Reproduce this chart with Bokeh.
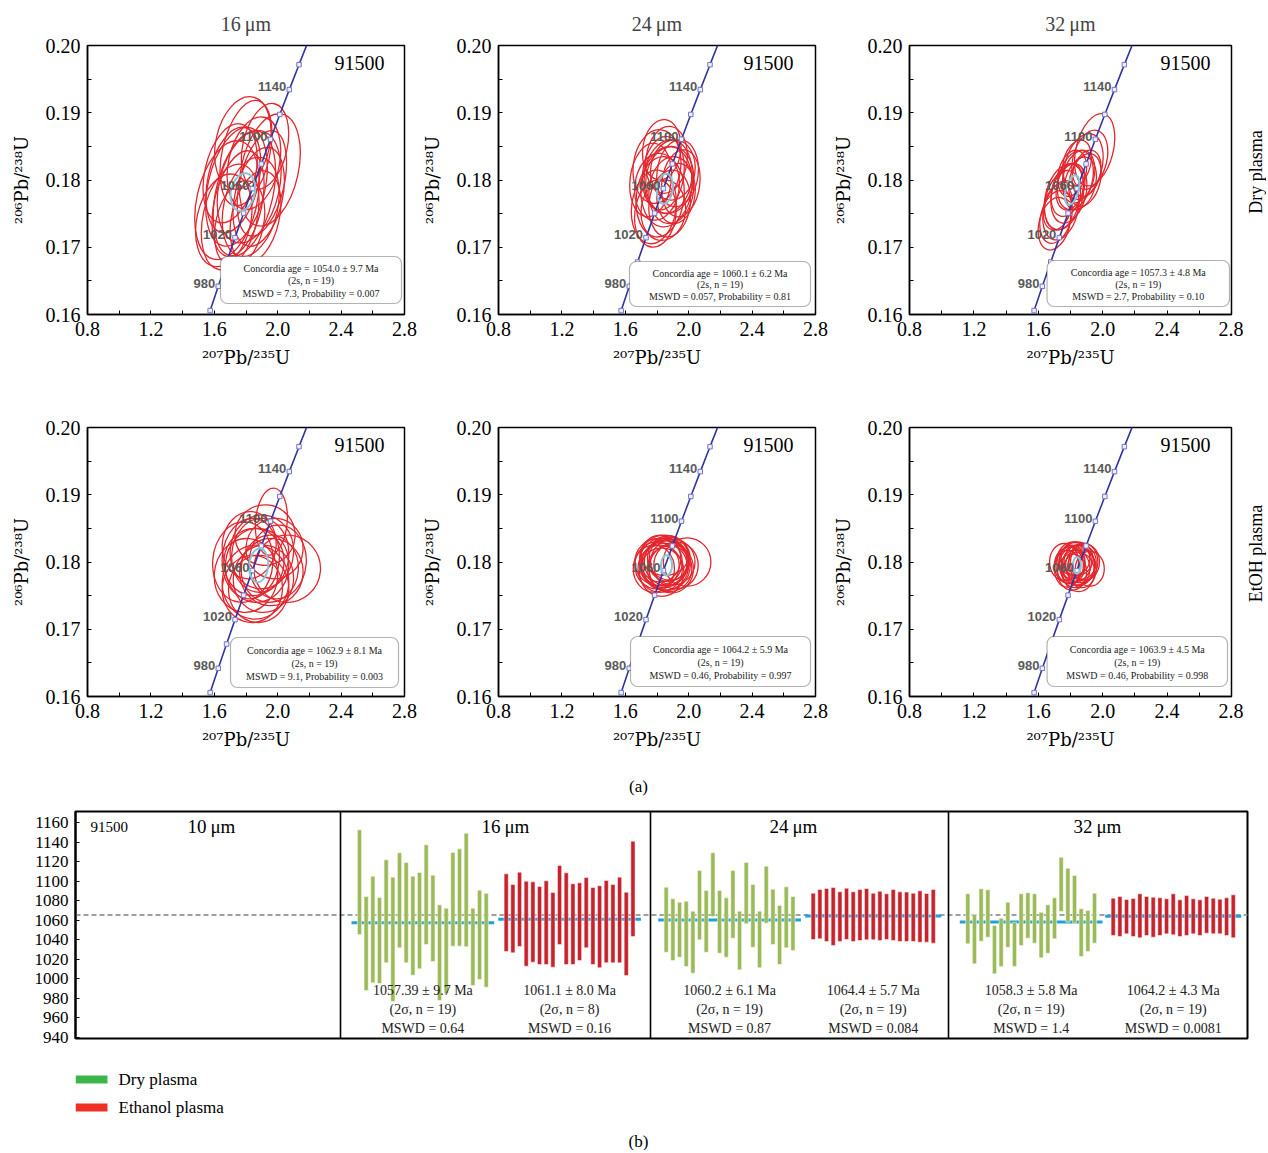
import numpy as np
from bokeh.plotting import figure
from bokeh.models import (FixedTicker, Label, BoxAnnotation, Span, Range1d,
                          PrintfTickFormatter)
from bokeh.layouts import column, row
from bokeh.embed import file_html
from bokeh.resources import INLINE
from bokeh.core.properties import value

SERIF = "Liberation Serif"
SUPFONT = "DejaVu Serif"
SANS = "Liberation Sans"
RED_ELL = "#e3262d"
CONC_BLUE = "#34349e"
CYAN = "#86c5d8"
GREEN_BAR = "#9bbb59"
RED_BAR = "#c8232c"
BLUE_MEAN = "#1ea1e0"

# ---------------- data: concordia reference curve (age, ratios) ----------------
conc_age = [960, 980, 1000, 1020, 1040, 1060, 1080, 1100, 1120, 1140, 1160, 1180]
conc_r207 = [1.5740, 1.6252, 1.6774, 1.7307, 1.7850, 1.8404, 1.8969, 1.9545, 2.0133, 2.0732, 2.1344, 2.1967]
conc_r206 = [0.16058, 0.16419, 0.16780, 0.17143, 0.17507, 0.17872, 0.18239, 0.18606, 0.18975, 0.19344, 0.19715, 0.20087]
conc_labelled = [980, 1020, 1060, 1100, 1140]

spot_sizes = ["16\u2009\u03bcm", "24\u2009\u03bcm", "32\u2009\u03bcm"]
plasma_rows = ["Dry plasma", "EtOH plasma"]
x_ticks = [0.8, 1.2, 1.6, 2.0, 2.4, 2.8]
y_ticks = [0.16, 0.17, 0.18, 0.19, 0.20]
x_title = "\u00b2\u2070\u2077Pb/\u00b2\u00b3\u2075U"
y_title = "\u00b2\u2070\u2076Pb/\u00b2\u00b3\u2078U"

# ---------------- data: error ellipses (207/235 centre, 206/238 centre, widths, heights) ----------------
dry16_ex = [1.70, 1.74, 1.80, 1.85, 1.90, 1.68, 1.76, 1.83, 1.95, 1.72, 1.78, 1.88, 1.66, 1.82, 1.75, 1.92, 1.70, 1.86, 1.79]
dry16_ey = [0.1745, 0.1790, 0.1840, 0.1825, 0.1795, 0.1770, 0.1735, 0.1760, 0.1815, 0.1800, 0.1855, 0.1775, 0.1740, 0.1790, 0.1765, 0.1850, 0.1810, 0.1745, 0.1780]
dry16_ew = [0.34, 0.36, 0.30, 0.32, 0.28, 0.38, 0.30, 0.34, 0.36, 0.32, 0.34, 0.30, 0.34, 0.38, 0.30, 0.28, 0.32, 0.30, 0.36]
dry16_eh = [0.016, 0.018, 0.016, 0.014, 0.016, 0.018, 0.013, 0.015, 0.017, 0.016, 0.014, 0.015, 0.014, 0.017, 0.016, 0.013, 0.015, 0.014, 0.019]

dry24_ex = [1.80, 1.84, 1.88, 1.92, 1.78, 1.86, 1.90, 1.82, 1.95, 1.76, 1.84, 1.88, 1.80, 1.93, 1.86, 1.83, 1.89, 1.79, 1.87]
dry24_ey = [0.1790, 0.1810, 0.1800, 0.1780, 0.1760, 0.1830, 0.1815, 0.1775, 0.1795, 0.1800, 0.1755, 0.1765, 0.1820, 0.1810, 0.1790, 0.1845, 0.1785, 0.1750, 0.1805]
dry24_ew = [0.28, 0.26, 0.30, 0.24, 0.28, 0.26, 0.28, 0.30, 0.24, 0.26, 0.28, 0.26, 0.30, 0.26, 0.32, 0.24, 0.28, 0.26, 0.30]
dry24_eh = [0.010, 0.011, 0.010, 0.009, 0.011, 0.010, 0.009, 0.012, 0.010, 0.011, 0.009, 0.010, 0.011, 0.010, 0.012, 0.009, 0.010, 0.010, 0.011]

dry32_ex = [1.71, 1.75, 1.80, 1.85, 1.88, 1.92, 1.72, 1.78, 1.83, 1.90, 1.70, 1.76, 1.86, 1.95, 1.81, 1.74, 1.89, 1.84, 1.79]
dry32_ey = [0.1745, 0.1770, 0.1790, 0.1805, 0.1820, 0.1830, 0.1760, 0.1785, 0.1800, 0.1810, 0.1735, 0.1775, 0.1795, 0.1845, 0.1810, 0.1755, 0.1800, 0.1825, 0.1780]
dry32_ew = [0.19, 0.21, 0.17, 0.19, 0.23, 0.21, 0.17, 0.19, 0.21, 0.17, 0.19, 0.23, 0.19, 0.23, 0.17, 0.21, 0.19, 0.17, 0.21]
dry32_eh = [0.008, 0.009, 0.007, 0.008, 0.010, 0.009, 0.007, 0.008, 0.009, 0.007, 0.008, 0.010, 0.008, 0.011, 0.007, 0.009, 0.008, 0.007, 0.009]

eth16_ex = [1.85, 1.90, 1.95, 1.80, 1.88, 2.00, 1.82, 1.92, 1.86, 2.06, 1.78, 1.96, 1.89, 1.84, 1.98, 1.87, 1.91, 1.83, 1.96]
eth16_ey = [0.1800, 0.1815, 0.1790, 0.1780, 0.1760, 0.1800, 0.1825, 0.1840, 0.1770, 0.1790, 0.1800, 0.1860, 0.1810, 0.1760, 0.1820, 0.1795, 0.1775, 0.1805, 0.1785]
eth16_ew = [0.38, 0.40, 0.36, 0.40, 0.38, 0.36, 0.34, 0.38, 0.42, 0.42, 0.38, 0.20, 0.36, 0.38, 0.36, 0.40, 0.38, 0.36, 0.40]
eth16_eh = [0.010, 0.011, 0.010, 0.011, 0.010, 0.011, 0.010, 0.009, 0.011, 0.010, 0.012, 0.010, 0.011, 0.010, 0.009, 0.011, 0.010, 0.012, 0.010]

eth24_ex = [1.80, 1.84, 1.88, 1.82, 1.86, 1.90, 1.78, 1.85, 1.92, 1.83, 1.87, 1.81, 1.89, 1.84, 1.86, 1.99, 1.82, 1.88, 1.85]
eth24_ey = [0.1795, 0.1800, 0.1790, 0.1805, 0.1795, 0.1800, 0.1790, 0.1810, 0.1795, 0.1785, 0.1805, 0.1800, 0.1790, 0.1795, 0.1800, 0.1800, 0.1790, 0.1805, 0.1795]
eth24_ew = [0.28, 0.30, 0.28, 0.26, 0.30, 0.28, 0.26, 0.30, 0.28, 0.28, 0.26, 0.30, 0.28, 0.30, 0.28, 0.30, 0.28, 0.26, 0.30]
eth24_eh = [0.0070, 0.0072, 0.0068, 0.0070, 0.0074, 0.0068, 0.0070, 0.0060, 0.0070, 0.0072, 0.0068, 0.0070, 0.0072, 0.0066, 0.0070, 0.0072, 0.0070, 0.0064, 0.0074]

eth32_ex = [1.80, 1.83, 1.86, 1.78, 1.84, 1.88, 1.81, 1.85, 1.92, 1.76, 1.82, 1.87, 1.84, 1.79, 1.86, 1.83, 1.89, 1.81, 1.85]
eth32_ey = [0.1795, 0.1800, 0.1795, 0.1790, 0.1805, 0.1800, 0.1785, 0.1795, 0.1790, 0.1800, 0.1805, 0.1790, 0.1795, 0.1795, 0.1800, 0.1790, 0.1800, 0.1800, 0.1785]
eth32_ew = [0.18, 0.20, 0.18, 0.16, 0.20, 0.18, 0.18, 0.20, 0.18, 0.18, 0.20, 0.18, 0.22, 0.18, 0.20, 0.18, 0.18, 0.16, 0.20]
eth32_eh = [0.0055, 0.0058, 0.0052, 0.0055, 0.0050, 0.0056, 0.0054, 0.0060, 0.0052, 0.0055, 0.0050, 0.0056, 0.0058, 0.0054, 0.0052, 0.0056, 0.0054, 0.0050, 0.0058]

# concordia-age ellipses (x, y, w, h) per panel, row-major: dry16, dry24, dry32, eth16, eth24, eth32
cage_x = [1.78, 1.85, 1.81, 1.88, 1.86, 1.84]
cage_y = [0.1782, 0.1787, 0.1785, 0.1795, 0.1795, 0.1795]
cage_w = [0.15, 0.10, 0.08, 0.12, 0.07, 0.05]
cage_h = [0.0057, 0.0045, 0.0045, 0.0050, 0.0030, 0.0025]

# concordia-age results
cage_age = ["1054.0", "1060.1", "1057.3", "1062.9", "1064.2", "1063.9"]
cage_err = ["9.7", "6.2", "4.8", "8.1", "5.9", "4.5"]
cage_n = [19, 19, 19, 19, 19, 19]
cage_mswd = ["7.3", "0.057", "2.7", "9.1", "0.46", "0.46"]
cage_prob = ["0.007", "0.81", "0.10", "0.003", "0.997", "0.998"]

# ---------------- data: 206Pb/238U ages (b) ----------------
dry16_hi = [1152.5, 1084.3, 1105.1, 1083.3, 1121.8, 1104.1, 1129.0, 1119.1, 1105.1, 1108.9, 1137.2, 1106.1, 1075.8, 1072.3, 1129.3, 1133.1, 1149.1, 1072.3, 1090.8, 1087.7]
dry16_lo = [1045.4, 988.1, 996.0, 995.3, 1016.5, 976.9, 1031.8, 1016.5, 1003.8, 1010.3, 1035.2, 1017.8, 977.9, 985.1, 1033.5, 1033.5, 1032.8, 993.3, 999.4, 991.5]
eth16_hi = [1107.5, 1096.6, 1109.2, 1100.0, 1099.3, 1094.5, 1100.4, 1088.4, 1116.0, 1108.5, 1097.3, 1098.3, 1103.7, 1093.5, 1095.3, 1100.7, 1096.6, 1104.1, 1088.7, 1140.9]
eth16_lo = [1028.0, 1026.7, 1033.2, 1013.0, 1017.1, 1014.7, 1014.7, 1012.0, 1035.2, 1014.7, 1014.7, 1018.8, 1031.8, 1014.7, 1011.4, 1016.5, 1016.5, 1016.5, 1003.5, 1043.4]
dry24_hi = [1093.8, 1082.0, 1078.5, 1079.5, 1069.3, 1110.9, 1090.4, 1129.0, 1090.4, 1083.0, 1110.9, 1069.3, 1119.1, 1096.6, 1069.3, 1115.3, 1091.8, 1075.1, 1094.2, 1084.3]
dry24_lo = [1027.3, 1018.8, 1022.2, 1012.7, 1005.8, 1040.0, 1027.3, 1063.8, 1026.3, 1022.2, 1041.6, 1009.3, 1056.4, 1032.4, 1011.4, 1057.0, 1035.2, 1014.7, 1031.8, 1029.1]
eth24_hi = [1087.7, 1091.5, 1092.5, 1093.5, 1089.1, 1092.8, 1089.1, 1091.5, 1092.5, 1087.7, 1089.7, 1087.1, 1091.5, 1089.1, 1088.8, 1087.7, 1090.1, 1087.4, 1091.5]
eth24_lo = [1040.3, 1041.0, 1038.3, 1034.2, 1038.3, 1040.3, 1038.3, 1039.3, 1040.0, 1040.0, 1039.3, 1040.3, 1039.3, 1038.3, 1038.3, 1038.3, 1037.6, 1037.6, 1036.6]
dry32_hi = [1087.1, 1065.9, 1092.2, 1091.2, 1054.6, 1062.1, 1078.5, 1058.0, 1087.1, 1088.1, 1087.1, 1068.2, 1075.8, 1083.0, 1124.5, 1113.3, 1105.8, 1071.7, 1070.0, 1087.7]
dry32_lo = [1035.9, 1015.4, 1038.6, 1042.7, 1005.2, 1012.7, 1032.4, 1012.7, 1034.2, 1041.6, 1036.6, 1021.6, 1026.3, 1041.0, 1069.0, 1058.0, 1057.0, 1022.9, 1028.0, 1036.6]
eth32_hi = [1082.6, 1084.3, 1081.2, 1082.3, 1087.1, 1084.3, 1083.6, 1083.0, 1082.0, 1087.1, 1080.9, 1085.3, 1082.0, 1080.9, 1084.3, 1082.6, 1081.6, 1083.0, 1086.0]
eth32_lo = [1044.4, 1043.4, 1046.1, 1043.4, 1042.0, 1044.4, 1042.7, 1044.4, 1046.1, 1045.1, 1043.4, 1044.4, 1046.1, 1044.4, 1046.8, 1046.1, 1046.1, 1044.4, 1042.0]

wm_dry = ["1057.39", "1060.2", "1058.3"]
wm_eth = ["1061.1", "1064.4", "1064.2"]
wm_dry_err = ["9.7", "6.1", "5.8"]
wm_eth_err = ["8.0", "5.7", "4.3"]
wm_dry_n = [19, 19, 19]
wm_eth_n = [8, 19, 19]
wm_dry_mswd = ["0.64", "0.87", "1.4"]
wm_eth_mswd = ["0.16", "0.084", "0.0081"]
ref_age = 1065.4
age_ticks = [940, 960, 980, 1000, 1020, 1040, 1060, 1080, 1100, 1120, 1140, 1160]
legend_labels = ["Dry plasma", "Ethanol plasma"]
legend_colors = ["#3cb54a", "#ee3124"]

# ---------------- layout (page pixels) ----------------
FIG_X = [0, 418, 829, 1243, 1266]
FR_L = [87, 498, 908]
FR_W = [317, 317, 323]
ROW_Y = [0, 382, 765]
FR_T = [45, 427]
FR_H = 269
BOX_PX = [(220, 401, 256, 303), (629, 810, 261, 306), (1046, 1229, 260, 306),
          (230, 398, 637, 687), (630, 810, 636, 686), (1046, 1227, 636, 686)]
TAG_PX = [(384, 62), (793, 62), (1210, 62), (384, 444), (793, 444), (1210, 444)]
ELL_ANGLE = [-0.22, -0.12, -0.25, -0.08, 0.0, 0.0]

panels = [
    (dry16_ex, dry16_ey, dry16_ew, dry16_eh), (dry24_ex, dry24_ey, dry24_ew, dry24_eh),
    (dry32_ex, dry32_ey, dry32_ew, dry32_eh), (eth16_ex, eth16_ey, eth16_ew, eth16_eh),
    (eth24_ex, eth24_ey, eth24_ew, eth24_eh), (eth32_ex, eth32_ey, eth32_ew, eth32_eh),
]


def make_panel(r, c):
    k = r * 3 + c
    fig_w = FIG_X[c + 1] - FIG_X[c]
    fig_h = ROW_Y[r + 1] - ROW_Y[r]
    bl = FR_L[c] - FIG_X[c]
    br = FIG_X[c + 1] - (FR_L[c] + FR_W[c])
    bt = FR_T[r] - ROW_Y[r]
    bb = fig_h - bt - FR_H
    p = figure(width=fig_w, height=fig_h, x_range=Range1d(0.8, 2.8), y_range=Range1d(0.16, 0.20),
               output_backend="svg", toolbar_location=None,
               min_border_left=bl, min_border_right=br, min_border_top=bt, min_border_bottom=bb)
    sx = lambda px: 0.8 + (px - FR_L[c]) / FR_W[c] * 2.0
    sy = lambda py: 0.20 - (py - FR_T[r]) / FR_H * 0.04

    p.grid.visible = False
    p.outline_line_color = "black"
    p.outline_line_width = 1.5
    p.background_fill_color = "white"
    p.border_fill_color = "white"

    p.xaxis.ticker = FixedTicker(ticks=x_ticks, minor_ticks=[1.0, 1.4, 1.8, 2.2, 2.6])
    p.yaxis.ticker = FixedTicker(ticks=y_ticks, minor_ticks=[0.165, 0.175, 0.185, 0.195])
    p.xaxis.formatter = PrintfTickFormatter(format="%.1f")
    p.yaxis.formatter = PrintfTickFormatter(format="%.2f")
    for ax in (p.xaxis, p.yaxis):
        ax.major_tick_in = 4
        ax.major_tick_out = 0
        ax.minor_tick_in = 4
        ax.minor_tick_out = 0
        ax.axis_line_color = "black"
        ax.axis_line_width = 1.5
        ax.major_label_text_font = SERIF
        ax.major_label_text_font_size = "20px"
        ax.major_label_text_color = "black"
        ax.axis_label_text_font = SUPFONT
        ax.axis_label_text_font_size = "18px"
        ax.axis_label_text_font_style = "normal"
        ax.axis_label_text_color = "black"
    p.xaxis.major_label_standoff = 7
    p.xaxis.axis_label_standoff = 8
    p.yaxis.major_label_standoff = 7
    p.yaxis.axis_label_standoff = 11
    p.xaxis.axis_label = x_title
    p.yaxis.axis_label = y_title

    if r == 0:
        p.title.text = spot_sizes[c]
        p.title.align = "center"
        p.title.text_font = SERIF
        p.title.text_font_size = "20px"
        p.title.text_font_style = "normal"
        p.title.standoff = 21

    ex, ey, ew, eh = panels[k]
    p.ellipse(x=ex, y=ey, width=ew, height=eh, angle=ELL_ANGLE[k],
              fill_alpha=0, line_color=RED_ELL, line_width=1.3)
    p.line(conc_r207, conc_r206, line_color=CONC_BLUE, line_width=1.6)
    p.scatter(conc_r207, conc_r206, marker="square", size=4.5,
              fill_color="#eef0ff", line_color="#7474c8", line_width=1)
    p.ellipse(x=[cage_x[k]], y=[cage_y[k]], width=[cage_w[k]], height=[cage_h[k]],
              angle=ELL_ANGLE[k], fill_alpha=0, line_color=CYAN, line_width=2)
    idx = [conc_age.index(a) for a in conc_labelled]
    p.text(x=[conc_r207[i] for i in idx], y=[conc_r206[i] for i in idx],
           text=[str(a) for a in conc_labelled], text_align="right", text_baseline="middle",
           x_offset=-3, y_offset=-3, text_font=value(SANS), text_font_size="13px",
           text_font_style="bold", text_color="#5a5a5a")

    bx0, bx1, by0, by1 = BOX_PX[k]
    p.add_layout(BoxAnnotation(left=sx(bx0), right=sx(bx1), top=sy(by0), bottom=sy(by1),
                               fill_color="white", fill_alpha=1.0, line_color="black",
                               line_width=1.2, border_radius=7))
    lines = [f"Concordia age = {cage_age[k]} \u00b1 {cage_err[k]} Ma",
             f"(2s, n = {cage_n[k]})",
             f"MSWD = {cage_mswd[k]}, Probability = {cage_prob[k]}"]
    for j, frac in enumerate([0.26, 0.52, 0.78]):
        p.add_layout(Label(x=sx((bx0 + bx1) / 2), y=sy(by0 + frac * (by1 - by0)), text=lines[j],
                           text_align="center", text_baseline="middle", text_font=SERIF,
                           text_font_size="10px", text_color="#222222"))
    tx, ty = TAG_PX[k]
    p.add_layout(Label(x=sx(tx), y=sy(ty), text="91500", text_align="right",
                       text_baseline="middle", text_font=SERIF, text_font_size="20px",
                       text_color="black"))
    return p


def row_label(r):
    w = FIG_X[4] - FIG_X[3]
    h = ROW_Y[r + 1] - ROW_Y[r]
    p = figure(width=w, height=h, x_range=Range1d(0, w), y_range=Range1d(h, 0),
               output_backend="svg", toolbar_location=None,
               min_border_left=0, min_border_right=0, min_border_top=0, min_border_bottom=0)
    p.axis.visible = False
    p.grid.visible = False
    p.outline_line_color = None
    p.text(x=[w / 2 + 1], y=[FR_T[r] + FR_H / 2 - ROW_Y[r]], text=[plasma_rows[r]],
           angle=np.pi / 2, text_align="center", text_baseline="middle",
           text_font=value(SERIF), text_font_size="18px", text_color="black")
    return p


# ---------------- bottom chart (b) geometry ----------------
PAGE_W = 1266
B_TOP, BH = 800, 260
B_FT, B_FH, B_FL, B_FW = 11, 227, 75, 1172
B_BR = PAGE_W - B_FL - B_FW


def blank(h):
    p = figure(width=PAGE_W, height=h, x_range=Range1d(0, B_FW), y_range=Range1d(h, 0),
               output_backend="svg", toolbar_location=None,
               min_border_left=B_FL, min_border_right=B_BR, min_border_top=0, min_border_bottom=0)
    p.axis.visible = False
    p.grid.visible = False
    p.outline_line_color = None
    return p


row1 = row(*[make_panel(0, c) for c in range(3)], row_label(0))
row2 = row(*[make_panel(1, c) for c in range(3)], row_label(1))

cap_a = blank(35)
cap_a.add_layout(Label(x=638 - B_FL, y=21, text="(a)", text_align="center", text_baseline="middle",
                       text_font=SERIF, text_font_size="17px", text_color="black"))

y_lo, y_hi = 939.0, 1171.3
pb = figure(width=PAGE_W, height=BH, x_range=Range1d(0, B_FW), y_range=Range1d(y_lo, y_hi),
            output_backend="svg", toolbar_location=None,
            min_border_left=B_FL, min_border_right=B_BR,
            min_border_top=B_FT, min_border_bottom=BH - B_FT - B_FH)
pb.grid.visible = False
pb.xaxis.visible = False
pb.outline_line_color = "black"
pb.outline_line_width = 2
pb.yaxis.ticker = FixedTicker(ticks=age_ticks)
pb.yaxis.major_tick_in = 4
pb.yaxis.major_tick_out = 0
pb.yaxis.minor_tick_line_color = None
pb.yaxis.axis_line_width = 2
pb.yaxis.major_label_text_font = SERIF
pb.yaxis.major_label_text_font_size = "17px"
pb.yaxis.major_label_text_color = "black"
pb.yaxis.major_label_standoff = 7

vy = lambda py: y_hi - (py - (B_TOP + B_FT)) / B_FH * (y_hi - y_lo)  # page-pixel -> age
hx = lambda px: px - B_FL                                             # page-pixel -> x

STEP = 6.67
DIVIDERS = [340, 650, 948]
G_START = [(359, 505.7), (665.7, 812.7), (967.3, 1112.7)]
groups = [((dry16_lo, dry16_hi), (eth16_lo, eth16_hi)),
          ((dry24_lo, dry24_hi), (eth24_lo, eth24_hi)),
          ((dry32_lo, dry32_hi), (eth32_lo, eth32_hi))]

pb.add_layout(Span(location=ref_age, dimension="width", line_color="#a0a0a0",
                   line_dash="5 3", line_width=2, level="underlay"))
for d in DIVIDERS:
    pb.add_layout(Span(location=hx(d), dimension="height", line_color="black", line_width=1.6))

for g in range(3):
    for s, (lo, hi) in enumerate(groups[g]):
        x0 = hx(G_START[g][s])
        xs = [x0 + i * STEP for i in range(len(lo))]
        col = GREEN_BAR if s == 0 else RED_BAR
        mean = float((wm_dry if s == 0 else wm_eth)[g])
        pb.segment(x0=[xs[0] - 8], y0=[mean], x1=[xs[-1] + 8], y1=[mean],
                   line_color=BLUE_MEAN, line_width=3)
        pb.vbar(x=xs, bottom=lo, top=hi, width=4.2, fill_color=col, line_color="white",
                line_width=0.5)
        cx = (xs[0] + xs[-1]) / 2
        if s == 0:
            t = [f"{wm_dry[g]} \u00b1 {wm_dry_err[g]} Ma", f"(2\u03c3, n = {wm_dry_n[g]})",
                 f"MSWD = {wm_dry_mswd[g]}"]
        else:
            t = [f"{wm_eth[g]} \u00b1 {wm_eth_err[g]} Ma", f"(2\u03c3, n = {wm_eth_n[g]})",
                 f"MSWD = {wm_eth_mswd[g]}"]
        pb.text(x=[cx] * 3, y=[vy(990), vy(1009), vy(1028)], text=t, text_align="center",
                text_baseline="middle", text_font=value(SERIF), text_font_size="14px",
                text_color="#222222")

pb.text(x=[hx(90)], y=[vy(826)], text=["91500"], text_align="left", text_baseline="middle",
        text_font=value(SERIF), text_font_size="15px", text_color="black")
pb.text(x=[hx(211), hx(505), hx(793), hx(1097)], y=[vy(826)] * 4,
        text=["10\u2009\u03bcm"] + spot_sizes,
        text_align="center", text_baseline="middle", text_font=value(SERIF),
        text_font_size="19px", text_color="black")

# ---------------- legend + (b) ----------------
LEG_TOP = 1060
leg = blank(90)
for i, (lab, colr) in enumerate(zip(legend_labels, legend_colors)):
    yc = 1079 + 28 * i - LEG_TOP
    leg.add_layout(BoxAnnotation(left=hx(75), right=hx(107), top=yc - 4, bottom=yc + 4,
                                 fill_color=colr, fill_alpha=1.0, line_color=None))
    leg.add_layout(Label(x=hx(118), y=yc, text=lab, text_align="left", text_baseline="middle",
                         text_font=SERIF, text_font_size="17px", text_color="black"))
leg.add_layout(Label(x=hx(638), y=1141 - LEG_TOP, text="(b)", text_align="center",
                     text_baseline="middle", text_font=SERIF, text_font_size="17px",
                     text_color="black"))

layout = column(row1, row2, cap_a, pb, leg)
open("out.html", "w").write(file_html(layout, INLINE))
